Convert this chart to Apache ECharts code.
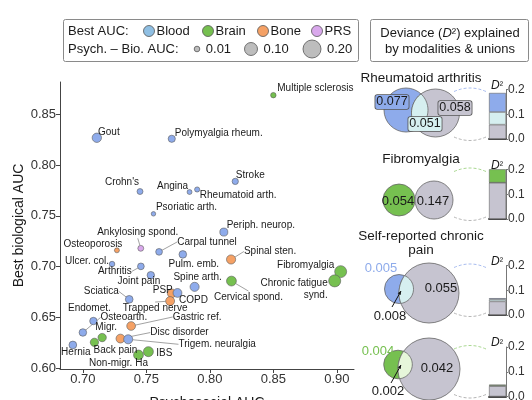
<!DOCTYPE html>
<html>
<head>
<meta charset="utf-8">
<title>Best biological vs psychosocial AUC</title>
<script src="https://cdn.jsdelivr.net/npm/echarts@6/dist/echarts.min.js"></script>
<style>body{margin:0}#main{width:532px;height:400px}</style>
</head>
<body>
<div id="main"></div>
<script>
// ---- scatter data ----
var names = ['Multiple sclerosis', 'Gout', 'Polymyalgia rheum.', "Crohn's", 'Angina', 'Rheumatoid arth.',
  'Stroke', 'Psoriatic arth.', 'Periph. neurop.', 'Ankylosing spond.', 'Osteoporosis', 'Carpal tunnel',
  'Pulm. emb.', 'Spinal sten.', 'Ulcer. col.', 'Arthritis', 'Joint pain', 'Spine arth.', 'Cervical spond.',
  'Fibromyalgia', 'Chronic fatigue\nsynd.', 'PSP', 'COPD', 'Sciatica', 'Trapped nerve', 'Endomet.',
  'Osteoarth.', 'Gastric ref.', 'Migr.', 'Disc disorder', 'Trigem. neuralgia', 'Hernia', 'Back pain',
  'IBS', 'Non-migr. Ha'];
var psychAUC = [0.850, 0.711, 0.770, 0.745, 0.784, 0.790, 0.820, 0.7556, 0.811, 0.7456, 0.7268, 0.760,
  0.7787, 0.8167, 0.723, 0.7457, 0.7535, 0.788, 0.817, 0.903, 0.8983, 0.770, 0.7745, 0.7365, 0.7687,
  0.7083, 0.700, 0.738, 0.7152, 0.7296, 0.7357, 0.6921, 0.7091, 0.7516, 0.7438];
var bioAUC = [0.869, 0.827, 0.826, 0.774, 0.7735, 0.776, 0.784, 0.752, 0.734, 0.718, 0.716, 0.7145,
  0.712, 0.707, 0.7025, 0.7002, 0.6915, 0.680, 0.6857, 0.695, 0.6859, 0.6736, 0.674, 0.6677, 0.666,
  0.6463, 0.635, 0.6414, 0.630, 0.629, 0.6283, 0.6227, 0.6253, 0.6161, 0.6128];
var bestModality = ['Brain', 'Blood', 'Blood', 'Blood', 'Blood', 'Blood', 'Blood', 'Blood', 'Blood', 'PRS',
  'Bone', 'Blood', 'Blood', 'Bone', 'Blood', 'Blood', 'Blood', 'Blood', 'Brain', 'Brain', 'Brain', 'Bone',
  'Blood', 'Blood', 'Bone', 'Blood', 'Blood', 'Bone', 'Brain', 'Bone', 'Blood', 'Blood', 'Brain',
  'Brain', 'Brain'];
var xTicks = [0.70, 0.75, 0.80, 0.85, 0.90];
var yTicks = [0.60, 0.65, 0.70, 0.75, 0.80, 0.85];

// ---- deviance explained (venn + bars) ----
var panelTitles = ['Rheumatoid arthritis', 'Fibromyalgia', 'Self-reported chronic\npain', ''];
var panelModality = ['Blood', 'Brain', 'Blood', 'Brain'];
var devBio = [0.077, 0.054, 0.005, 0.004];
var devShared = [0.051, 0, 0.008, 0.002];
var devPsych = [0.058, 0.147, 0.055, 0.042];

// ---- styling / layout (not data) ----
var FONT = 'Liberation Sans, Arial, Helvetica, sans-serif';
var colors = { Blood: '#8eabeb', Brain: '#76c050', Bone: '#f5a165', PRS: '#d9a8ec' };
var legendColors = { Blood: '#8fbfe3', Brain: '#76c050', Bone: '#f5a165', PRS: '#d9a8ec' };
var lensColors = { Blood: '#d6eff0', Brain: '#e6f6da' };
var grayFill = '#c6c4d0';
// label offset from point centre [dx, dy, leaderLine, align]
var labelPlace = [[42, -7], [12, -6], [47, -6], [-18, -9], [-17, -6], [41, 6], [15, -6], [33, -7], [37, -7],
  [-3, -16, 1], [-24, -6], [48, -10, 1], [11, 10], [39, -8, 1], [-25, -3], [-26, 5, 1], [-12, 6],
  [3, -10, 1], [17, 16, 1], [-35, -6], [-7, 8, 0, 'right'], [-9, -3], [16, 7], [-28, -8, 1],
  [-15, 7, 1], [-4, -13], [41, -15, 1], [66, -9, 1], [4, -10], [59, -6, 1], [89, 5, 1], [3, 7],
  [21, 8], [16, 2], [-20, 8]];
var barTops = [89.5, 169.5, 265.5, 347];
var vennLayout = [
  { bio: [406, 110, 22], psy: [435.5, 113, 24], title: 78,
    lbl: [[392, 102], [425, 124], [455, 108]] },
  { bio: [399, 200, 16], psy: [434, 200, 19], title: 159,
    lbl: [[398, 201], null, [433, 201]] },
  { bio: [399, 289, 14.5], psy: [429, 293, 30], title: 243,
    lbl: [[381, 268], [390, 316], [441, 288]], arrow: [392, 307, 401, 291] },
  { bio: [398, 364.5, 14.3], psy: [429, 369, 31], title: 0,
    lbl: [[378, 351], [388, 391], [437, 368]], arrow: [391, 383, 401, 365] }
];

var chart = echarts.init(document.getElementById('main'));

function pointSize(v) { return Math.sqrt(18 + 600 * Math.abs(v[0] - v[1])); }

var scatterData = names.map(function (n, i) {
  var item = { name: n, value: [psychAUC[i], bioAUC[i]],
    itemStyle: { color: colors[bestModality[i]] } };
  if (!labelPlace[i][2]) item.labelLine = { show: false };
  return item;
});

// intersection lens of two circles as polygon points
function lensPoints(c1, c2) {
  var dx = c2[0] - c1[0], dy = c2[1] - c1[1];
  var d = Math.sqrt(dx * dx + dy * dy);
  var a = (c1[2] * c1[2] - c2[2] * c2[2] + d * d) / (2 * d);
  var h = Math.sqrt(Math.max(c1[2] * c1[2] - a * a, 0));
  var base = Math.atan2(dy, dx);
  var t1 = Math.atan2(h, a);
  var t2 = Math.atan2(h, d - a);
  var pts = [], n = 24, i, t;
  for (i = 0; i <= n; i++) {
    t = base - t1 + 2 * t1 * i / n;
    pts.push([c1[0] + c1[2] * Math.cos(t), c1[1] + c1[2] * Math.sin(t)]);
  }
  for (i = 0; i <= n; i++) {
    t = base + Math.PI - t2 + 2 * t2 * i / n;
    pts.push([c2[0] + c2[2] * Math.cos(t), c2[1] + c2[2] * Math.sin(t)]);
  }
  return pts;
}

var graphics = [];
// scatter legend box
graphics.push({ type: 'rect', shape: { x: 63.5, y: 19.5, width: 295, height: 42, r: 2 },
  style: { fill: '#fff', stroke: '#8a8a8a', lineWidth: 1 } });
graphics.push({ type: 'text', x: 68, y: 31, style: { text: 'Best AUC:', font: '13px ' + FONT,
  fill: '#1a1a1a', textVerticalAlign: 'middle' } });
var legMods = ['Blood', 'Brain', 'Bone', 'PRS'], legX = [149, 208, 263, 317];
legMods.forEach(function (m, i) {
  graphics.push({ type: 'circle', shape: { cx: legX[i], cy: 31, r: 5.5 },
    style: { fill: legendColors[m], stroke: '#555', lineWidth: 0.8 } });
  graphics.push({ type: 'text', x: legX[i] + 7.5, y: 31, style: { text: m, font: '13px ' + FONT,
    fill: '#1a1a1a', textVerticalAlign: 'middle' } });
});
graphics.push({ type: 'text', x: 68, y: 49, style: { text: 'Psych. \u2013 Bio. AUC:', font: '13px ' + FONT,
  fill: '#1a1a1a', textVerticalAlign: 'middle' } });
var sizeKeys = ['0.01', '0.10', '0.20'], sizeX = [197, 251, 312], sizeR = [2.8, 6.5, 9];
sizeKeys.forEach(function (s, i) {
  graphics.push({ type: 'circle', shape: { cx: sizeX[i], cy: 49, r: sizeR[i] },
    style: { fill: '#bdbdbd', stroke: '#555', lineWidth: 0.8 } });
  graphics.push({ type: 'text', x: sizeX[i] + sizeR[i] + 6, y: 49, style: { text: s,
    font: '13px ' + FONT, fill: '#1a1a1a', textVerticalAlign: 'middle' } });
});
// deviance header box
graphics.push({ type: 'rect', shape: { x: 370.5, y: 19.5, width: 158, height: 42, r: 2 },
  style: { fill: '#fff', stroke: '#8a8a8a', lineWidth: 1 } });
graphics.push({ type: 'text', x: 450, y: 33, style: {
  text: '{a|Deviance (}{d|D}{a|\u00b2) explained}', textAlign: 'center', textVerticalAlign: 'middle',
  rich: { a: { font: '13px ' + FONT, fill: '#1a1a1a' }, d: { font: 'italic 13px ' + FONT, fill: '#1a1a1a' } } } });
graphics.push({ type: 'text', x: 450, y: 49, style: { text: 'by modalities & unions', font: '13px ' + FONT,
  fill: '#1a1a1a', textAlign: 'center', textVerticalAlign: 'middle' } });

// venn panels
vennLayout.forEach(function (L, k) {
  var mod = panelModality[k];
  if (panelTitles[k]) {
    graphics.push({ type: 'text', x: 421, y: L.title, style: { text: panelTitles[k],
      font: '13.5px ' + FONT, fill: '#1a1a1a', textAlign: 'center', textVerticalAlign: 'middle',
      lineHeight: 14 } });
  }
  var b = L.bio, p = L.psy;
  graphics.push({ type: 'circle', shape: { cx: b[0], cy: b[1], r: b[2] },
    style: { fill: colors[mod], stroke: '#666', lineWidth: 0.8 } });
  graphics.push({ type: 'circle', shape: { cx: p[0], cy: p[1], r: p[2] },
    style: { fill: grayFill, stroke: '#666', lineWidth: 0.8 } });
  if (devShared[k] > 0) {
    graphics.push({ type: 'polygon', shape: { points: lensPoints(b, p) },
      style: { fill: lensColors[mod], stroke: '#666', lineWidth: 0.8 } });
  }
  var boxed = (k === 0);
  var txt = function (pos, val, fill, bg) {
    var st = { text: val.toFixed(3), font: (boxed ? '12.5px ' : '13px ') + FONT, fill: fill,
      textAlign: 'center', textVerticalAlign: 'middle' };
    if (bg) { st.backgroundColor = bg; st.borderColor = '#555'; st.borderWidth = 0.8;
      st.borderRadius = 2; st.padding = [1, 1, 0, 1]; }
    graphics.push({ type: 'text', x: pos[0], y: pos[1], z: 10, style: st });
  };
  var outside = (k >= 2);
  txt(L.lbl[0], devBio[k], outside ? colors[mod] : '#1a1a1a', boxed ? colors[mod] : null);
  if (L.lbl[1]) txt(L.lbl[1], devShared[k], '#1a1a1a', boxed ? lensColors[mod] : null);
  txt(L.lbl[2], devPsych[k], '#1a1a1a', boxed ? grayFill : null);
  if (L.arrow) {
    var a = L.arrow;
    graphics.push({ type: 'line', z: 10, shape: { x1: a[0], y1: a[1], x2: a[2], y2: a[3] },
      style: { stroke: '#111', lineWidth: 1 } });
    var ang = Math.atan2(a[3] - a[1], a[2] - a[0]);
    var hx = a[2], hy = a[3], s = 4;
    graphics.push({ type: 'polygon', z: 10, shape: { points: [[hx, hy],
      [hx - s * Math.cos(ang - 0.45), hy - s * Math.sin(ang - 0.45)],
      [hx - s * Math.cos(ang + 0.45), hy - s * Math.sin(ang + 0.45)]] }, style: { fill: '#111' } });
  }
  // dashed connectors venn -> bar
  var top = barTops[k], bot = barTops[k] + 49.5;
  graphics.push({ type: 'bezierCurve', shape: { x1: 454, y1: top + 2, x2: 486, y2: top + 2,
    cpx1: 470, cpy1: top - 5 }, style: { stroke: mod === 'Blood' ? '#a9bdf0' : '#a9d890',
    lineWidth: 1, lineDash: [3, 2], fill: null } });
  graphics.push({ type: 'bezierCurve', shape: { x1: 454, y1: bot - 2, x2: 486, y2: bot - 2,
    cpx1: 470, cpy1: bot + 5 }, style: { stroke: '#b5b5b5', lineWidth: 1, lineDash: [3, 2], fill: null } });
  // D^2 label above bar axis
  graphics.push({ type: 'text', x: 497, y: top - 4, style: { text: '{d|D}{s|\u00b2}',
    textAlign: 'center', textVerticalAlign: 'middle',
    rich: { d: { font: 'italic 12px ' + FONT, fill: '#1a1a1a' }, s: { font: '10px ' + FONT, fill: '#1a1a1a' } } } });
});

var grids = [{ left: 60, right: 178, top: 82, bottom: 31, containLabel: false, outerBoundsMode: 'none' }];
var xAxes = [{
  type: 'value', gridIndex: 0, min: 0.682, max: 0.9135,
  name: 'Psychosocial AUC', nameLocation: 'middle', nameGap: 27,
  nameTextStyle: { fontSize: 14, color: '#1a1a1a', fontFamily: FONT },
  axisLine: { lineStyle: { color: '#444', width: 1 } },
  axisTick: { show: true, length: 4, customValues: xTicks, lineStyle: { color: '#444' } },
  axisLabel: { customValues: xTicks, fontSize: 13, color: '#333', fontFamily: FONT, margin: 4,
    formatter: function (v) { return v.toFixed(2); } },
  splitLine: { show: false }
}];
var yAxes = [{
  type: 'value', gridIndex: 0, min: 0.599, max: 0.882,
  name: 'Best biological AUC', nameLocation: 'middle', nameGap: 34, nameMoveOverlap: false,
  nameTextStyle: { fontSize: 14, color: '#1a1a1a', fontFamily: FONT },
  axisLine: { show: true, lineStyle: { color: '#444', width: 1 } },
  axisTick: { show: true, length: 4, customValues: yTicks, lineStyle: { color: '#444' } },
  axisLabel: { customValues: yTicks, fontSize: 13, color: '#333', fontFamily: FONT, margin: 4,
    formatter: function (v) { return v.toFixed(2); } },
  splitLine: { show: false }
}];
var series = [{
  type: 'scatter', xAxisIndex: 0, yAxisIndex: 0, data: scatterData,
  symbolSize: pointSize,
  itemStyle: { borderColor: '#5a5a5a', borderWidth: 0.6, opacity: 1 },
  label: { show: true, position: 'inside', formatter: '{b}', fontSize: 10, color: '#1a1a1a',
    fontFamily: FONT, lineHeight: 12 },
  labelLine: { show: true, smooth: false, lineStyle: { color: '#8a8a8a', width: 0.8 } },
  labelLayout: function (p) {
    var l = labelPlace[p.dataIndex];
    return { x: p.rect.x + p.rect.width / 2 + l[0], y: p.rect.y + p.rect.height / 2 + l[1],
      align: l[3] || 'center', verticalAlign: 'middle', hideOverlap: false };
  },
  emphasis: { disabled: true }, z: 3
}];

barTops.forEach(function (top, k) {
  var gi = k + 1, mod = panelModality[k];
  grids.push({ left: 489, right: 26, top: top, height: 49.5, containLabel: false, outerBoundsMode: 'none' });
  xAxes.push({ type: 'category', gridIndex: gi, data: [''],
    axisLine: { lineStyle: { color: '#4a4a4a', width: 2 } },
    axisTick: { show: false }, axisLabel: { show: false } });
  yAxes.push({ type: 'value', gridIndex: gi, min: 0, max: 0.2, interval: 0.1, position: 'right',
    axisLine: { show: true, lineStyle: { color: '#777', width: 1 } },
    axisTick: { show: true, length: 2, lineStyle: { color: '#777' } },
    axisLabel: { fontSize: 12, color: '#333', fontFamily: FONT, margin: 2,
      formatter: function (v) { return v.toFixed(1); } },
    splitLine: { show: false } });
  var parts = [[devPsych[k], grayFill], [devShared[k], lensColors[mod]], [devBio[k], colors[mod]]];
  parts.forEach(function (pt) {
    series.push({ type: 'bar', xAxisIndex: gi, yAxisIndex: gi, stack: 'dev' + k, data: [pt[0]],
      barWidth: '100%', clip: false, itemStyle: { color: pt[1], borderColor: '#666', borderWidth: 0.6 },
      emphasis: { disabled: true }, silent: true });
  });
});

chart.setOption({
  animation: false,
  backgroundColor: '#fff',
  textStyle: { fontFamily: FONT },
  grid: grids, xAxis: xAxes, yAxis: yAxes, series: series,
  graphic: { elements: graphics }
});
</script>
</body>
</html>
